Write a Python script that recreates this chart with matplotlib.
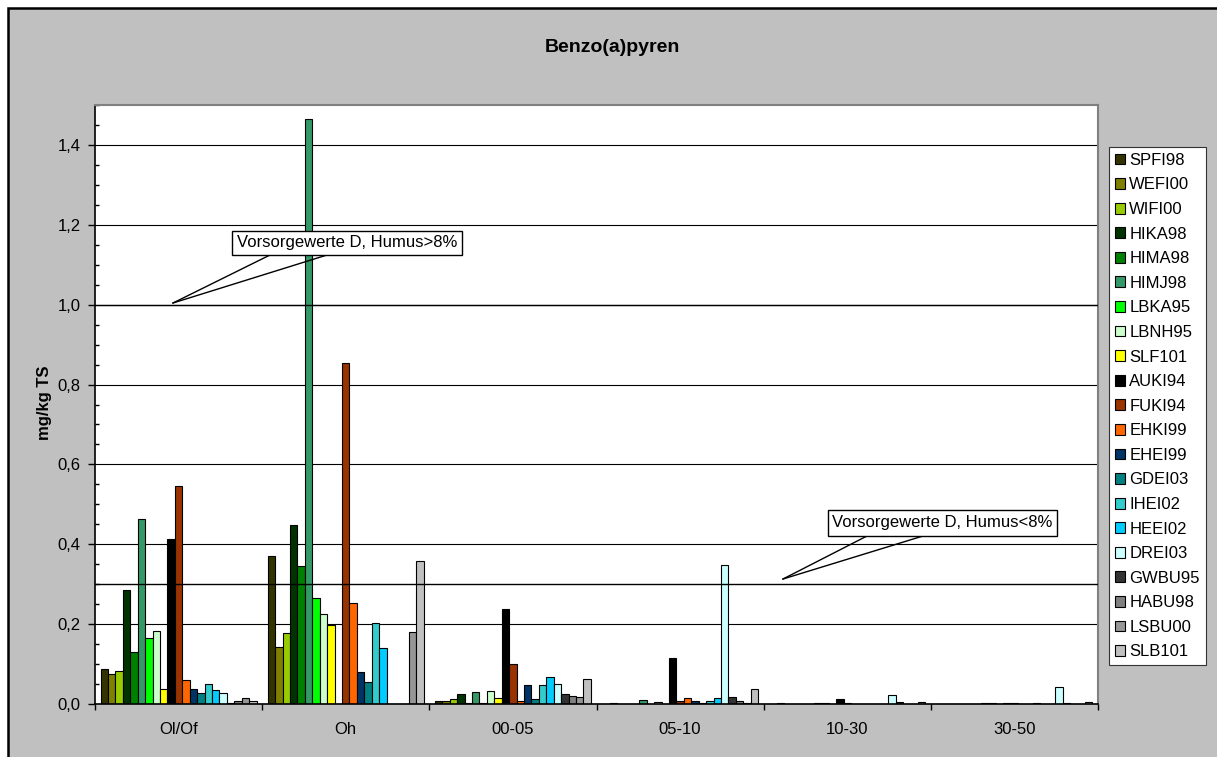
import matplotlib
matplotlib.use("Agg")
import matplotlib.pyplot as plt
from matplotlib.patches import Rectangle, Patch
from matplotlib.lines import Line2D
import numpy as np

plt.rcParams['font.family'] = ['Liberation Sans', 'DejaVu Sans']

# ---------------- data ----------------
title = "Benzo(a)pyren"
ylabel = "mg/kg TS"
categories = ["Ol/Of", "Oh", "00-05", "05-10", "10-30", "30-50"]
series = ["SPFI98", "WEFI00", "WIFI00", "HIKA98", "HIMA98", "HIMJ98", "LBKA95",
          "LBNH95", "SLF101", "AUKI94", "FUKI94", "EHKI99", "EHEI99", "GDEI03",
          "IHEI02", "HEEI02", "DREI03", "GWBU95", "HABU98", "LSBU00", "SLB101"]
colors = ["#333300", "#808000", "#99CC00", "#003300", "#008000", "#339966", "#00FF00",
          "#CCFFCC", "#FFFF00", "#000000", "#993300", "#FF6600", "#003366", "#008080",
          "#33CCCC", "#00CCFF", "#CCFFFF", "#333333", "#808080", "#969696", "#C0C0C0"]

vals_ol_of = [0.088, 0.074, 0.083, 0.285, 0.130, 0.464, 0.166, 0.183, 0.037, 0.413, 0.545,
              0.060, 0.038, 0.027, 0.051, 0.035, 0.028, 0.002, 0.008, 0.015, 0.008]
vals_oh = [0.371, 0.143, 0.177, 0.448, 0.346, 1.466, 0.266, 0.225, 0.198, 0.0, 0.855,
           0.253, 0.080, 0.054, 0.202, 0.140, 0.0, 0.0, 0.0, 0.180, 0.358]
vals_00_05 = [0.008, 0.008, 0.0125, 0.024, 0.003, 0.029, 0.003, 0.032, 0.015, 0.237, 0.100,
              0.007, 0.048, 0.012, 0.048, 0.067, 0.051, 0.026, 0.019, 0.018, 0.0625]
vals_05_10 = [0.001, 0.002, 0.001, 0.001, 0.001, 0.010, 0.001, 0.006, 0.001, 0.114, 0.008,
              0.015, 0.007, 0.002, 0.008, 0.016, 0.348, 0.018, 0.008, 0.003, 0.0375]
vals_10_30 = [0.001, 0.002, 0.001, 0.001, 0.001, 0.001, 0.002, 0.002, 0.001, 0.012, 0.002,
              0.001, 0.001, 0.001, 0.001, 0.001, 0.023, 0.006, 0.001, 0.001, 0.005]
vals_30_50 = [0.001, 0.001, 0.001, 0.001, 0.001, 0.001, 0.002, 0.002, 0.001, 0.002, 0.002,
              0.001, 0.001, 0.003, 0.001, 0.001, 0.043, 0.002, 0.001, 0.001, 0.005]

ytick_values = [0.0, 0.2, 0.4, 0.6, 0.8, 1.0, 1.2, 1.4]
ytick_labels = ["0,0", "0,2", "0,4", "0,6", "0,8", "1,0", "1,2", "1,4"]

ref_values = [1.0, 0.3]
ref_labels = ["Vorsorgewerte D, Humus>8%", "Vorsorgewerte D, Humus<8%"]

# ---------------- figure ----------------
W, H = 1217, 757
fig = plt.figure(figsize=(W / 100, H / 100), dpi=100, facecolor="white")


def fx(px):
    return px / W


def fy(py):
    return 1 - py / H


# grey chart area with black border (left/top visible)
fig.patches.append(Rectangle((fx(7.8), fy(H + 20)), 1.2, fy(7.8) - fy(H + 20),
                             transform=fig.transFigure, facecolor="#c0c0c0",
                             edgecolor="black", linewidth=1.8, zorder=-10))

ax = fig.add_axes([fx(95), fy(704), fx(1098) - fx(95), fy(105) - fy(704)])
ax.set_zorder(1)
ax.set_facecolor("white")

values_by_cat = [vals_ol_of, vals_oh, vals_00_05, vals_05_10, vals_10_30, vals_30_50]
n = len(series)
w = 1 / (n + 1.5)
x = np.arange(len(categories))
for i, (name, col) in enumerate(zip(series, colors)):
    v = [grp[i] for grp in values_by_cat]
    ax.bar(x + (i - (n - 1) / 2) * w, v, width=w, color=col, edgecolor="black",
           linewidth=0.8, zorder=2)

ax.set_xlim(-0.5, len(categories) - 0.5)
ax.set_ylim(0, 1.5)

ax.set_yticks(ytick_values)
ax.set_yticklabels(ytick_labels, fontsize=12)
ax.set_yticks(np.arange(0, 1.501, 0.05), minor=True)
ax.tick_params(axis="y", which="major", direction="out", length=5, width=1, pad=5.5, colors="black")
ax.tick_params(axis="y", which="minor", direction="in", length=2.7, width=1)
ax.yaxis.grid(True, which="major", color="black", linewidth=0.8, zorder=1)
ax.set_axisbelow(True)

ax.set_xticks(x)
ax.set_xticklabels(categories, fontsize=12)
ax.set_xticks(np.arange(-0.5, len(categories), 1.0), minor=True)
ax.tick_params(axis="x", which="major", length=0, pad=13)
ax.tick_params(axis="x", which="minor", direction="out", length=4, width=1)

for s in ["left", "bottom"]:
    ax.spines[s].set_color("black")
    ax.spines[s].set_linewidth(1.2)
for s in ["top", "right"]:
    ax.spines[s].set_color("#808080")
    ax.spines[s].set_linewidth(1.5)

for v in ref_values:
    ax.axhline(v, color="black", linewidth=1.0, zorder=3)

# callouts (figure pixel positions)
callouts = [((232, 231, 462, 255), (270, 327), (173, 303)),
            ((828, 510, 1057, 536), (867, 923), (783, 579))]
for lab, (box, base, tip) in zip(ref_labels, callouts):
    x0, y0, x1, y1 = box
    fig.patches.append(Rectangle((fx(x0), fy(y1)), fx(x1) - fx(x0), fy(y0) - fy(y1),
                                 transform=fig.transFigure, facecolor="white",
                                 edgecolor="black", linewidth=1.0, zorder=5))
    for bx in base:
        fig.lines.append(Line2D([fx(bx), fx(tip[0])], [fy(y1), fy(tip[1])],
                                transform=fig.transFigure, color="black",
                                linewidth=1.0, zorder=5))
    fig.text(fx((x0 + x1) / 2), fy((y0 + y1) / 2), lab, fontsize=12,
             ha="center", va="center", zorder=6)

# title and y label
fig.text(fx(612), fy(47), title, fontsize=14, fontweight="bold", ha="center", va="center")
fig.text(fx(44), fy(403), ylabel, fontsize=12, fontweight="bold", rotation=90,
         ha="center", va="center")

# legend
handles = [Patch(facecolor=c, edgecolor="black", linewidth=0.8) for c in colors]
leg = fig.legend(handles, series, loc="upper left",
                 bbox_to_anchor=(fx(1109), fy(147)), bbox_transform=fig.transFigure,
                 fontsize=12, frameon=True, fancybox=False, borderaxespad=0,
                 borderpad=0.35, handlelength=0.62, handleheight=0.62,
                 handletextpad=0.25, labelspacing=0.575)
leg.set_zorder(6)
leg.get_frame().set_edgecolor("#333333")
leg.get_frame().set_linewidth(0.8)
leg.get_frame().set_facecolor("white")
leg.get_frame().set_alpha(1.0)

fig.savefig("out.png", dpi=100, facecolor="white")
